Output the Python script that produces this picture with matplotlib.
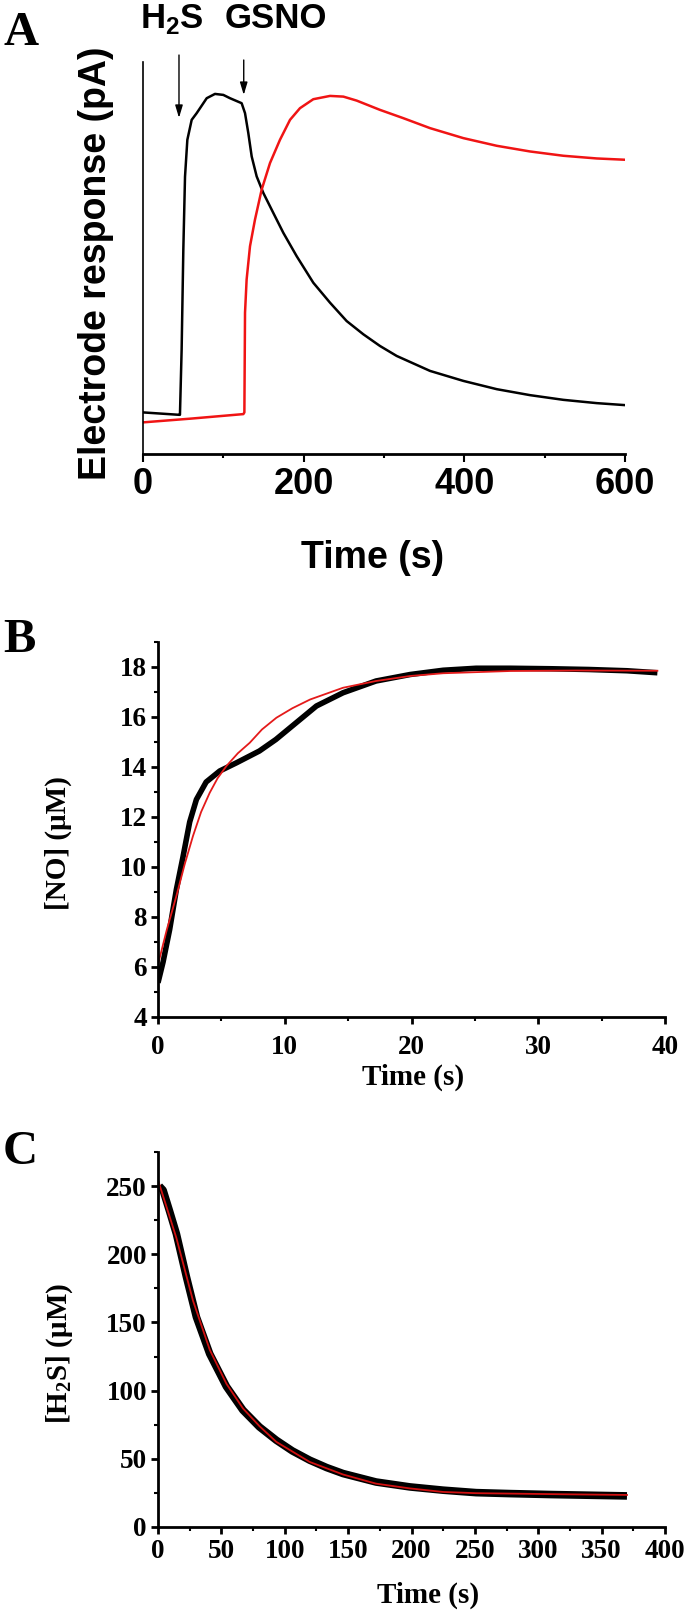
import matplotlib.pyplot as plt
from matplotlib.ticker import MultipleLocator

plt.rcParams['mathtext.fontset'] = 'custom'
plt.rcParams['mathtext.sf'] = 'Liberation Sans:bold'
plt.rcParams['mathtext.bf'] = 'Liberation Serif:bold'

# ---- Panel A: electrode response (arbitrary pA units, no y scale) ----
a_time_h2s = [0, 44.8, 46, 48.1, 50.2, 52.3, 55.2, 60.6, 66.8, 79.3, 89.6, 100, 108.3,
              122.8, 127, 131.1, 135.3, 141.5, 149.8, 162.2, 174.7, 191.3, 212,
              232.8, 253.5, 274.3, 295, 315.8, 357.3, 398.7, 440.3, 481.8, 523.2,
              564.8, 600]
a_resp_h2s = [41.7, 39.3, 39.3, 105, 205, 278, 315, 335, 341.7, 356.7, 361, 360, 356.7,
              351.7, 341.7, 321.7, 298.3, 278.3, 261.7, 241.7, 221.7, 198.3, 171.7,
              151.7, 133.3, 120, 108.3, 98.3, 83.3, 73.3, 65, 59, 54.3,
              51, 49]
a_time_no = [0, 60, 124.9, 126.2, 127, 129, 133.2, 139.4, 147.7, 158.1, 170.5, 183,
             195.4, 212, 232.8, 249.4, 266, 295, 324, 357.3, 398.7, 440.3, 481.8,
             523.2, 564.8, 600]
a_resp_no = [31.7, 35.5, 40, 41.7, 141.7, 175, 208.3, 235, 265, 291.7, 315, 335,
             346.7, 355.7, 359, 358.3, 354.3, 345, 336.7, 326.7, 316.7, 309, 303.3,
             299, 296.3, 295]
a_xticks = [0, 200, 400, 600]
a_events = ['H$_\\mathsf{2}$S', 'GSNO']
a_event_time = [44.8, 125.4]

# ---- Panel B: [NO] vs time ----
b_time = [0, 0.4, 0.92, 1.45, 1.97, 2.5, 3.03, 3.8, 4.87, 6.2, 8.0, 9.3, 10.9, 12.5,
          14.6, 17.2, 19.9, 22.5, 25.1, 27.8, 31, 34, 37, 39.4]
b_no = [5.37, 6.2, 7.5, 9.1, 10.4, 11.8, 12.7, 13.4, 13.84, 14.17, 14.64, 15.1, 15.77,
        16.44, 16.97, 17.44, 17.7, 17.87, 17.95, 17.95, 17.93, 17.9, 17.85, 17.77]
b_time_fit = [0, 0.7, 1.45, 2.1, 2.76, 3.4, 4.08, 4.7, 5.4, 6.3, 7.24, 8.2, 9.34, 10.6,
              12, 14.6, 17.2, 19.9, 22.5, 27.8, 33, 39.4]
b_no_fit = [6.1, 7.5, 8.84, 10.1, 11.24, 12.2, 12.97, 13.55, 14.04, 14.55, 14.97, 15.5,
            15.97, 16.35, 16.7, 17.17, 17.44, 17.64, 17.75, 17.84, 17.86, 17.85]
b_xticks = [0, 10, 20, 30, 40]
b_yticks = [4, 6, 8, 10, 12, 14, 16, 18]

# ---- Panel C: [H2S] vs time ----
c_time = [1, 4, 9, 14.5, 22.4, 30.3, 40.8, 54, 67, 80, 93.4, 106, 119.7, 133, 146,
          172, 198.7, 225, 251, 277.6, 310, 340, 370]
c_h2s = [250, 247, 232, 215, 183.5, 154, 127, 103, 85.7, 73.4, 63.6, 55.8, 49, 43.6,
         39.2, 33, 29.4, 27, 25.2, 24.5, 23.8, 23.3, 22.8]
c_time_fit = [0.5, 14.5, 27.6, 40.8, 54, 67, 80, 93.4, 119.7, 146, 172, 198.7, 225,
              251, 277.6, 320, 370]
c_h2s_fit = [253, 212, 166, 130, 105, 87, 74, 62.4, 47.7, 38.5, 31.8, 28.3, 25.7,
             24.8, 24.5, 24, 23.5]
c_xticks = [0, 50, 100, 150, 200, 250, 300, 350, 400]
c_yticks = [0, 50, 100, 150, 200, 250]

W, H = 686, 1613
fig = plt.figure(figsize=(W / 100, H / 100), dpi=100)


def box(l, t, r, b):
    return [l / W, 1 - b / H, (r - l) / W, (b - t) / H]


def ftext(x, y, s, **kw):
    fig.text(x / W, 1 - y / H, s, **kw)


sans = dict(family='Liberation Sans', fontweight='bold')
serif = dict(family='Liberation Serif', fontweight='bold')

# Panel A
axA = fig.add_axes(box(143, 62, 625, 454))
axA.plot(a_time_h2s, a_resp_h2s, color='black', lw=1.8)
axA.plot(a_time_no, a_resp_no, color='#f01414', lw=1.8)
axA.set_xlim(0, 600)
axA.set_ylim(0, 393)
for s in ['top', 'right']:
    axA.spines[s].set_visible(False)
axA.spines['left'].set_linewidth(1.2)
axA.spines['bottom'].set_linewidth(2.0)
axA.set_yticks([])
axA.set_xticks(a_xticks, [str(v) for v in a_xticks], fontsize=26, **sans)
axA.xaxis.set_minor_locator(MultipleLocator(100))
axA.tick_params(axis='x', which='major', length=6, width=1.5, pad=3)
axA.tick_params(axis='x', which='minor', length=3, width=1.5)

for t, top, tip in zip(a_event_time, [400, 395], [337, 360]):
    axA.annotate('', xy=(t, tip), xytext=(t, top), annotation_clip=False,
                 arrowprops=dict(arrowstyle='-|>,head_length=0.5,head_width=0.15',
                                 color='black', lw=1, mutation_scale=15,
                                 shrinkA=0, shrinkB=0))
ftext(140, 28, a_events[0], fontsize=25, va='baseline', ha='left', **sans)
ftext(225, 28, a_events[1], fontsize=25, va='baseline', ha='left', **sans)
ftext(96, 263, 'Electrode response (pA)', rotation=90, ha='center', va='center',
      fontsize=27, **sans)
ftext(373, 568, 'Time (s)', ha='center', va='baseline', fontsize=27, **sans)

# Panel B
axB = fig.add_axes(box(158, 642, 665, 1017))
axB.plot(b_time, b_no, color='black', lw=4, solid_capstyle='butt')
axB.plot(b_time_fit, b_no_fit, color='#e41a1a', lw=1.3)
axB.set_xlim(0, 40)
axB.set_ylim(4, 19)
axB.set_xticks(b_xticks, [str(v) for v in b_xticks], fontsize=19.5, **serif)
axB.set_yticks(b_yticks, [str(v) for v in b_yticks], fontsize=19.5, **serif)
axB.xaxis.set_minor_locator(MultipleLocator(5))
axB.yaxis.set_minor_locator(MultipleLocator(1))
ftext(58, 843, '[NO] (\u03bcM)', rotation=90, ha='center', va='center', fontsize=21, **serif)
ftext(413, 1085, 'Time (s)', ha='center', va='baseline', fontsize=21, **serif)

# Panel C
axC = fig.add_axes(box(158, 1152, 665, 1527))
axC.plot(c_time, c_h2s, color='black', lw=5.5, solid_capstyle='butt')
axC.plot(c_time_fit, c_h2s_fit, color='#d01010', lw=1.3)
axC.set_xlim(0, 400)
axC.set_ylim(0, 275)
axC.set_xticks(c_xticks, [str(v) for v in c_xticks], fontsize=19.5, **serif)
axC.set_yticks(c_yticks, [str(v) for v in c_yticks], fontsize=19.5, **serif)
axC.xaxis.set_minor_locator(MultipleLocator(25))
axC.yaxis.set_minor_locator(MultipleLocator(25))
ftext(60, 1353, '[H$_\\mathbf{2}$S] (\u03bcM)', rotation=90, ha='center', va='center',
      fontsize=21, **serif)
ftext(428, 1603, 'Time (s)', ha='center', va='baseline', fontsize=21, **serif)

for ax, xpad in [(axB, 8), (axC, 4)]:
    for s in ['top', 'right']:
        ax.spines[s].set_visible(False)
    for s in ['left', 'bottom']:
        ax.spines[s].set_linewidth(2)
    ax.tick_params(which='major', length=5, width=2, direction='out')
    ax.tick_params(which='minor', length=3, width=1.5, direction='out')
    ax.tick_params(axis='y', pad=3)
    ax.tick_params(axis='x', pad=xpad)

# panel letters
ftext(3, 45, 'A', fontsize=35, ha='left', va='baseline', **serif)
ftext(3, 652, 'B', fontsize=35, ha='left', va='baseline', **serif)
ftext(3, 1164, 'C', fontsize=35, ha='left', va='baseline', **serif)

fig.savefig('out.png', dpi=100)
